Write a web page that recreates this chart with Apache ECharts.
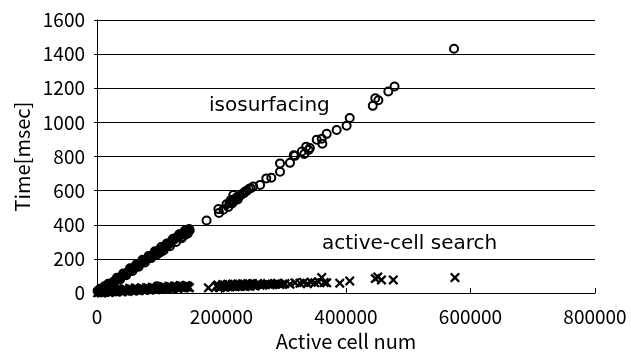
<!DOCTYPE html>
<html>
<head>
<meta charset="utf-8">
<script src="https://cdn.jsdelivr.net/npm/echarts@6/dist/echarts.min.js"></script>
<style>
html,body{margin:0;padding:0;background:#fff;}
#chart{width:631px;height:356px;}
</style>
</head>
<body>
<div id="chart"></div>
<script>
// 等値面抽出 (circles)
var isoData = [
    [1000,12],[3000,18],[5000,8],[8000,25],[10000,30],[12000,20],[15000,40],[18000,45],
    [20000,50],[22000,38],[25000,62],[28000,70],[30000,75],[33000,80],[35000,88],[38000,92],
    [40000,100],[43000,108],[45000,112],[48000,118],[50000,125],[52000,130],[55000,140],[58000,145],
    [60000,150],[62000,152],[65000,162],[68000,170],[70000,175],[72000,182],[75000,188],[78000,195],
    [80000,198],[82000,205],[85000,212],[88000,220],[90000,225],[92000,230],[95000,238],[98000,245],
    [100000,250],[102000,240],[104000,258],[106000,262],[108000,268],[110000,272],[113000,280],[115000,287],
    [118000,295],[120000,305],[123000,312],[125000,320],[128000,325],[130000,330],[133000,338],[135000,342],
    [137000,330],[138000,348],[140000,352],[142000,342],[143000,358],[145000,362],[147000,365],[149000,368],
    [5000,25],[12000,40],[18000,55],[26000,55],[32000,90],[37000,80],[42000,115],[47000,105],
    [53000,145],[57000,130],[63000,168],[67000,155],[73000,195],[77000,180],[83000,218],[87000,205],
    [93000,245],[97000,228],[103000,270],[107000,250],[112000,290],[117000,275],[122000,318],[127000,300],
    [132000,345],[136000,322],[141000,365],[146000,350],[148000,375],
    [96000,40],
    [176000,425],[196000,470],[195000,492],[203000,488],[208000,520],[211000,505],[213000,530],[215000,545],
    [217000,525],[219000,575],[220000,540],[222000,550],[224000,560],[226000,548],[228000,565],[230000,572],
    [233000,580],[236000,585],[238000,595],[241000,600],[244000,610],[247000,615],[251000,624],[262000,634],
    [272000,672],[280000,676],[294000,711],[294000,760],[310000,763],[318000,804],[316000,808],[329000,830],
    [333000,815],[336000,858],[340000,838],[342000,850],[353000,899],[361000,904],[362000,875],[369000,933],
    [385000,956],[401000,981],[406000,1026],[443000,1097],[447000,1142],[452000,1130],[468000,1181],[478000,1210],
    [573500,1432]
];
// アクティブセル探索 (crosses)
var searchData = [
    [1000,2],[3000,5],[6000,3],[9000,8],[12000,4],[15000,10],[18000,6],[21000,12],[24000,8],[27000,14],
    [30000,10],[33000,12],[36000,15],[39000,10],[42000,16],[45000,12],[48000,18],[51000,14],[54000,16],[57000,18],
    [60000,15],[63000,20],[66000,17],[69000,19],[72000,22],[75000,18],[78000,20],[81000,24],[84000,21],[87000,23],
    [90000,25],[93000,22],[96000,26],[99000,24],[102000,28],[105000,25],[108000,30],[111000,27],[114000,32],[117000,28],
    [120000,33],[123000,30],[126000,35],[129000,32],[132000,36],[135000,33],[138000,38],[141000,35],[144000,36],[147000,34],
    [4500,12],[7500,0],[10500,15],[13500,8],[16500,18],[19500,4],[22500,20],[25500,10],[28500,22],[31500,6],
    [34500,24],[37500,18],[40500,8],[43500,26],[46500,20],[49500,10],[52500,28],[55500,22],[58500,12],[61500,30],
    [64500,24],[67500,14],[70500,30],[73500,26],[76500,16],[79500,32],[82500,28],[85500,18],[88500,34],[91500,30],
    [94500,20],[97500,36],[100500,32],[103500,22],[106500,38],[109500,34],[112500,24],[115500,40],[118500,36],[121500,26],
    [124500,42],[127500,38],[130500,28],[133500,44],[136500,40],[139500,30],[142500,45],[145500,42],[148500,32],
    [179000,31],[192000,40],[196000,35],[200000,42],[204000,38],[208000,44],[212000,40],[216000,45],[220000,41],[224000,46],
    [228000,42],[232000,47],[236000,43],[240000,48],[244000,44],[248000,49],[252000,45],[256000,50],[262000,46],[270000,52],
    [194000,48],[198000,32],[202000,50],[206000,34],[210000,52],[214000,36],[218000,53],[222000,37],[226000,54],[230000,38],
    [234000,55],[238000,39],[242000,55],[246000,40],[250000,56],[254000,41],[258000,56],[266000,48],[274000,56],[282000,50],
    [290000,58],[298000,52],
    [278000,48],[286000,54],[294000,50],[302000,56],[310000,52],[318000,60],[326000,58],[332000,62],[338000,55],[344000,64],
    [350000,60],[356000,66],[361000,91],[365000,62],[369000,60],[390000,58],[406000,71],[447000,85],[451000,95],[457000,77],
    [476000,77],[575000,91]
];
var xTicks = [0, 800000, 200000];   // min, max, interval
var yTicks = [0, 1600, 200];

var axisFont = '"Noto Sans CJK JP", sans-serif';
var labelFont = '20px "DejaVu Sans", sans-serif';
var crossPath = 'path://M0,1.6L1.6,0L5,3.4L8.4,0L10,1.6L6.6,5L10,8.4L8.4,10L5,6.6L1.6,10L0,8.4L3.4,5Z';

var myChart = echarts.init(document.getElementById('chart'));
var option = {
    backgroundColor: '#fff',
    animation: false,
    grid: {left: 97, right: 36, top: 20, bottom: 60},
    xAxis: {
        type: 'value',
        min: xTicks[0], max: xTicks[1], interval: xTicks[2],
        name: 'Active cell num',
        nameLocation: 'middle',
        nameGap: 37,
        nameTextStyle: {color: '#000', fontSize: 20, fontFamily: axisFont},
        axisLine: {lineStyle: {color: '#000', width: 1}},
        axisTick: {inside: true, length: 5, lineStyle: {color: '#000'}},
        axisLabel: {color: '#000', fontSize: 19, fontFamily: axisFont, margin: 14,
            formatter: function (v) { return String(v); }},
        splitLine: {show: false}
    },
    yAxis: {
        type: 'value',
        min: yTicks[0], max: yTicks[1], interval: yTicks[2],
        name: 'Time[msec]',
        nameLocation: 'middle',
        nameGap: 65,
        nameTextStyle: {color: '#000', fontSize: 20, fontFamily: axisFont},
        axisLine: {show: true, lineStyle: {color: '#000', width: 1}},
        axisTick: {show: true, length: 3, lineStyle: {color: '#000'}},
        axisLabel: {color: '#000', fontSize: 19, fontFamily: axisFont, margin: 12,
            formatter: function (v) { return String(v); }},
        splitLine: {lineStyle: {color: '#000', width: 1}}
    },
    series: [
        {
            name: 'isosurfacing',
            type: 'scatter',
            symbol: 'circle',
            symbolSize: 8,
            itemStyle: {color: 'rgba(255,255,255,0)', borderColor: '#000', borderWidth: 2, opacity: 1},
            data: isoData
        },
        {
            name: 'active-cell search',
            type: 'scatter',
            symbol: crossPath,
            symbolSize: 10,
            itemStyle: {color: '#000', opacity: 1},
            data: searchData
        }
    ],
    graphic: [
        {type: 'text', left: 209, top: 96,
         style: {text: 'isosurfacing', fill: '#000', font: labelFont}},
        {type: 'text', left: 322, top: 234,
         style: {text: 'active-cell search', fill: '#000', font: labelFont}}
    ]
};
myChart.setOption(option);
</script>
</body>
</html>
